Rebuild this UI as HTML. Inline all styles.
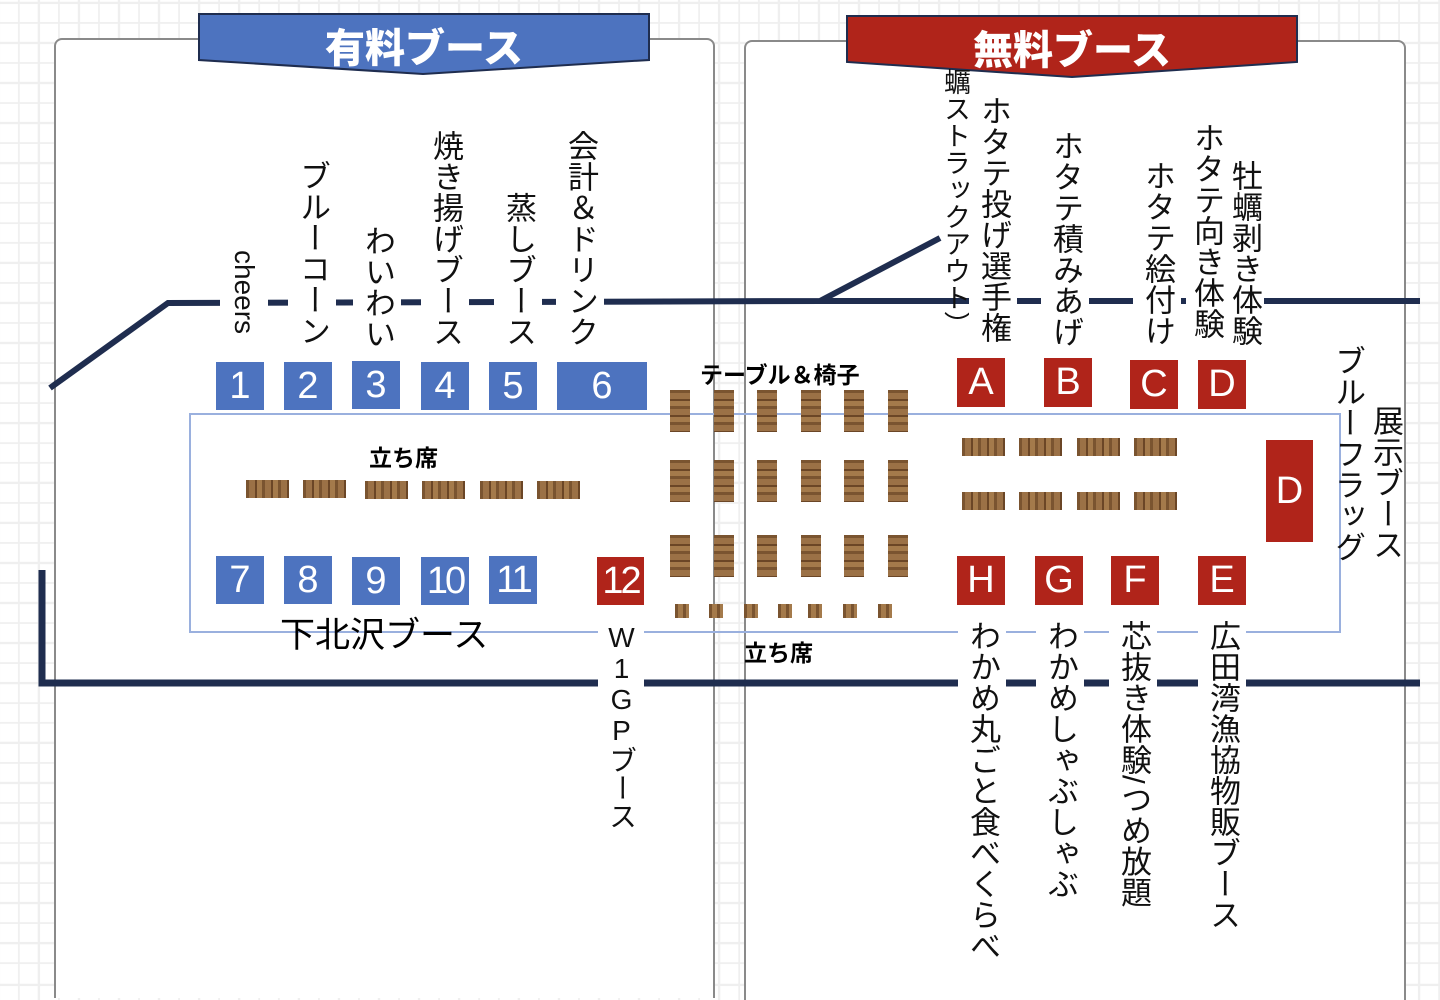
<!DOCTYPE html>
<html><head><meta charset="utf-8">
<style>
*{margin:0;padding:0;box-sizing:border-box}
body{width:1440px;height:982px;overflow:hidden;position:relative;background:#fff;
background-image:repeating-linear-gradient(90deg,transparent 0 18px,#efefef 18px 20px),repeating-linear-gradient(0deg,transparent 0 18px,#efefef 18px 20px);
font-family:"Liberation Sans","Noto Sans CJK JP",sans-serif;}
.abs{position:absolute}
.panel{position:absolute;background:#fff;border:2px solid #8a8a8a;border-bottom:none;border-radius:8px 8px 0 0}
.bx{position:absolute;color:#fff;font-size:38px;text-align:center;line-height:48px;font-family:"Liberation Sans","Noto Sans CJK JP",sans-serif}
.b{background:#4d73bf}
.r{background:#b0241a}
.wv{position:absolute;width:20px;height:42px;background:repeating-linear-gradient(180deg,#7a5430 0 3px,#9b7146 3px 9px,#6b4626 9px 11px,#a47a4b 11px 16px);}
.wh{position:absolute;height:18px;background:repeating-linear-gradient(90deg,#7a5430 0 3px,#9b7146 3px 9px,#6b4626 9px 11px,#a47a4b 11px 16px);}
.sq{position:absolute;width:14px;height:14px;background:repeating-linear-gradient(90deg,#7a5430 0 3px,#a47a4b 3px 8px)}
.v{position:absolute;writing-mode:vertical-rl;font-size:31px;line-height:36px;color:#111;background:#fff;padding:0 6px;white-space:nowrap;font-family:"Liberation Sans","Noto Sans CJK JP",sans-serif}
.up{text-orientation:upright}
.bold{position:absolute;font-weight:bold;font-size:23px;color:#000;font-family:"Noto Sans CJK JP",sans-serif}
</style></head><body>
<div class="panel" style="left:54px;top:38px;width:661px;height:960px"></div>
<div class="panel" style="left:744px;top:40px;width:662px;height:960px"></div>

<svg class="abs" style="left:0;top:0" width="1440" height="982">
<polygon points="199,14 649,14 649,60 423,74 199,60" fill="#4d73bf" stroke="#1f2d4f" stroke-width="2"/>
<polygon points="847,16 1297,16 1297,62 1072,77 847,62" fill="#b0241a" stroke="#1f2d4f" stroke-width="2"/>
<text x="424" y="62" text-anchor="middle" font-size="40" font-weight="900" fill="#fff" font-family="Noto Sans CJK JP,sans-serif">有料ブース</text>
<text x="1072" y="64" text-anchor="middle" font-size="40" font-weight="900" fill="#fff" font-family="Noto Sans CJK JP,sans-serif">無料ブース</text>
<polyline points="50,388 168,303 820,301 940,238" fill="none" stroke="#1f2d4f" stroke-width="6"/>
<line x1="820" y1="301" x2="1420" y2="301" stroke="#1f2d4f" stroke-width="6"/>
<polyline points="42,570 42,683 1420,683" fill="none" stroke="#1f2d4f" stroke-width="7"/>
<rect x="190" y="414" width="1150" height="218" fill="none" stroke="#9ab0de" stroke-width="2"/>
</svg>

<div class="bx b" style="left:216px;top:362px;width:48px;height:48px">1</div>
<div class="bx b" style="left:284px;top:362px;width:48px;height:48px">2</div>
<div class="bx b" style="left:352px;top:361px;width:48px;height:48px">3</div>
<div class="bx b" style="left:421px;top:362px;width:48px;height:48px">4</div>
<div class="bx b" style="left:489px;top:362px;width:48px;height:48px">5</div>
<div class="bx b" style="left:557px;top:362px;width:90px;height:48px">6</div>
<div class="bx b" style="left:216px;top:556px;width:48px;height:48px">7</div>
<div class="bx b" style="left:284px;top:556px;width:48px;height:48px">8</div>
<div class="bx b" style="left:352px;top:557px;width:48px;height:48px">9</div>
<div class="bx b" style="left:421px;top:557px;width:48px;height:48px;letter-spacing:-3px">10</div>
<div class="bx b" style="left:489px;top:556px;width:48px;height:48px;letter-spacing:-3px">11</div>
<div class="bx r" style="left:597px;top:557px;width:47px;height:48px;letter-spacing:-3px">12</div>
<div class="bx r" style="left:957px;top:358px;width:48px;height:49px">A</div>
<div class="bx r" style="left:1044px;top:358px;width:48px;height:49px">B</div>
<div class="bx r" style="left:1130px;top:360px;width:48px;height:49px">C</div>
<div class="bx r" style="left:1198px;top:360px;width:48px;height:49px">D</div>
<div class="bx r" style="left:957px;top:556px;width:48px;height:49px">H</div>
<div class="bx r" style="left:1035px;top:556px;width:48px;height:49px">G</div>
<div class="bx r" style="left:1111px;top:556px;width:48px;height:49px">F</div>
<div class="bx r" style="left:1198px;top:556px;width:48px;height:49px">E</div>
<div class="bx r" style="left:1266px;top:440px;width:47px;height:102px;line-height:102px">D</div>

<div class="wh" style="left:246px;top:480px;width:43px"></div>
<div class="wh" style="left:303px;top:480px;width:43px"></div>
<div class="wh" style="left:365px;top:481px;width:43px"></div>
<div class="wh" style="left:422px;top:481px;width:43px"></div>
<div class="wh" style="left:480px;top:481px;width:43px"></div>
<div class="wh" style="left:537px;top:481px;width:43px"></div>
<div class="wh" style="left:962px;top:438px;width:43px"></div>
<div class="wh" style="left:1019px;top:438px;width:43px"></div>
<div class="wh" style="left:1077px;top:438px;width:43px"></div>
<div class="wh" style="left:1134px;top:438px;width:43px"></div>
<div class="wh" style="left:962px;top:492px;width:43px"></div>
<div class="wh" style="left:1019px;top:492px;width:43px"></div>
<div class="wh" style="left:1077px;top:492px;width:43px"></div>
<div class="wh" style="left:1134px;top:492px;width:43px"></div>
<div class="wv" style="left:670px;top:390px"></div><div class="wv" style="left:714px;top:390px"></div><div class="wv" style="left:757px;top:390px"></div><div class="wv" style="left:801px;top:390px"></div><div class="wv" style="left:844px;top:390px"></div><div class="wv" style="left:888px;top:390px"></div>
<div class="wv" style="left:670px;top:460px"></div><div class="wv" style="left:714px;top:460px"></div><div class="wv" style="left:757px;top:460px"></div><div class="wv" style="left:801px;top:460px"></div><div class="wv" style="left:844px;top:460px"></div><div class="wv" style="left:888px;top:460px"></div>
<div class="wv" style="left:670px;top:535px"></div><div class="wv" style="left:714px;top:535px"></div><div class="wv" style="left:757px;top:535px"></div><div class="wv" style="left:801px;top:535px"></div><div class="wv" style="left:844px;top:535px"></div><div class="wv" style="left:888px;top:535px"></div>
<div class="sq" style="left:675px;top:604px"></div><div class="sq" style="left:709px;top:604px"></div><div class="sq" style="left:744px;top:604px"></div><div class="sq" style="left:778px;top:604px"></div><div class="sq" style="left:808px;top:604px"></div><div class="sq" style="left:843px;top:604px"></div><div class="sq" style="left:878px;top:604px"></div>

<div class="bold" style="left:700px;top:356px">テーブル＆椅子</div>
<div class="bold" style="left:369px;top:439px">立ち席</div>
<div class="bold" style="left:744px;top:634px">立ち席</div>
<div class="abs" style="left:280px;top:613px;font-size:35px;line-height:40px;font-family:'Noto Sans CJK JP',sans-serif">下北沢ブース</div>

<div class="v" style="left:220px;top:250px;font-size:28px">cheers</div>
<div class="v" style="left:288px;top:160px">ブルーコーン</div>
<div class="v" style="left:353px;top:225px">わいわい</div>
<div class="v" style="left:421px;top:130px">焼き揚げブース</div>
<div class="v" style="left:494px;top:192px">蒸しブース</div>
<div class="v" style="left:556px;top:130px">会計＆ドリンク</div>
<div class="v up" style="left:598px;top:622px;font-size:28px;line-height:34px">W1GPブース</div>
<div class="v" style="left:938px;top:68px;font-size:27px;line-height:30px;background:transparent;padding:0 2px">蠣ストラックアウト）</div>
<div class="v" style="left:969px;top:95px">ホタテ投げ選手権</div>
<div class="v" style="left:1041px;top:130px">ホタテ積みあげ</div>
<div class="v" style="left:1133px;top:160px">ホタテ絵付け</div>
<div class="v" style="left:1186px;top:122px;padding:0 2px">ホタテ向き体験</div>
<div class="v" style="left:1224px;top:160px;padding:0 2px">牡蠣剥き体験</div>
<div class="v" style="left:1329px;top:345px;background:transparent;padding:0">ブルーフラッグ</div>
<div class="v" style="left:1367px;top:405px;background:transparent;padding:0">展示ブース</div>
<div class="v" style="left:958px;top:620px">わかめ丸ごと食べくらべ</div>
<div class="v" style="left:1036px;top:620px">わかめしゃぶしゃぶ</div>
<div class="v" style="left:1109px;top:620px">芯抜き体験/つめ放題</div>
<div class="v" style="left:1198px;top:620px">広田湾漁協物販ブース</div>
</body></html>
